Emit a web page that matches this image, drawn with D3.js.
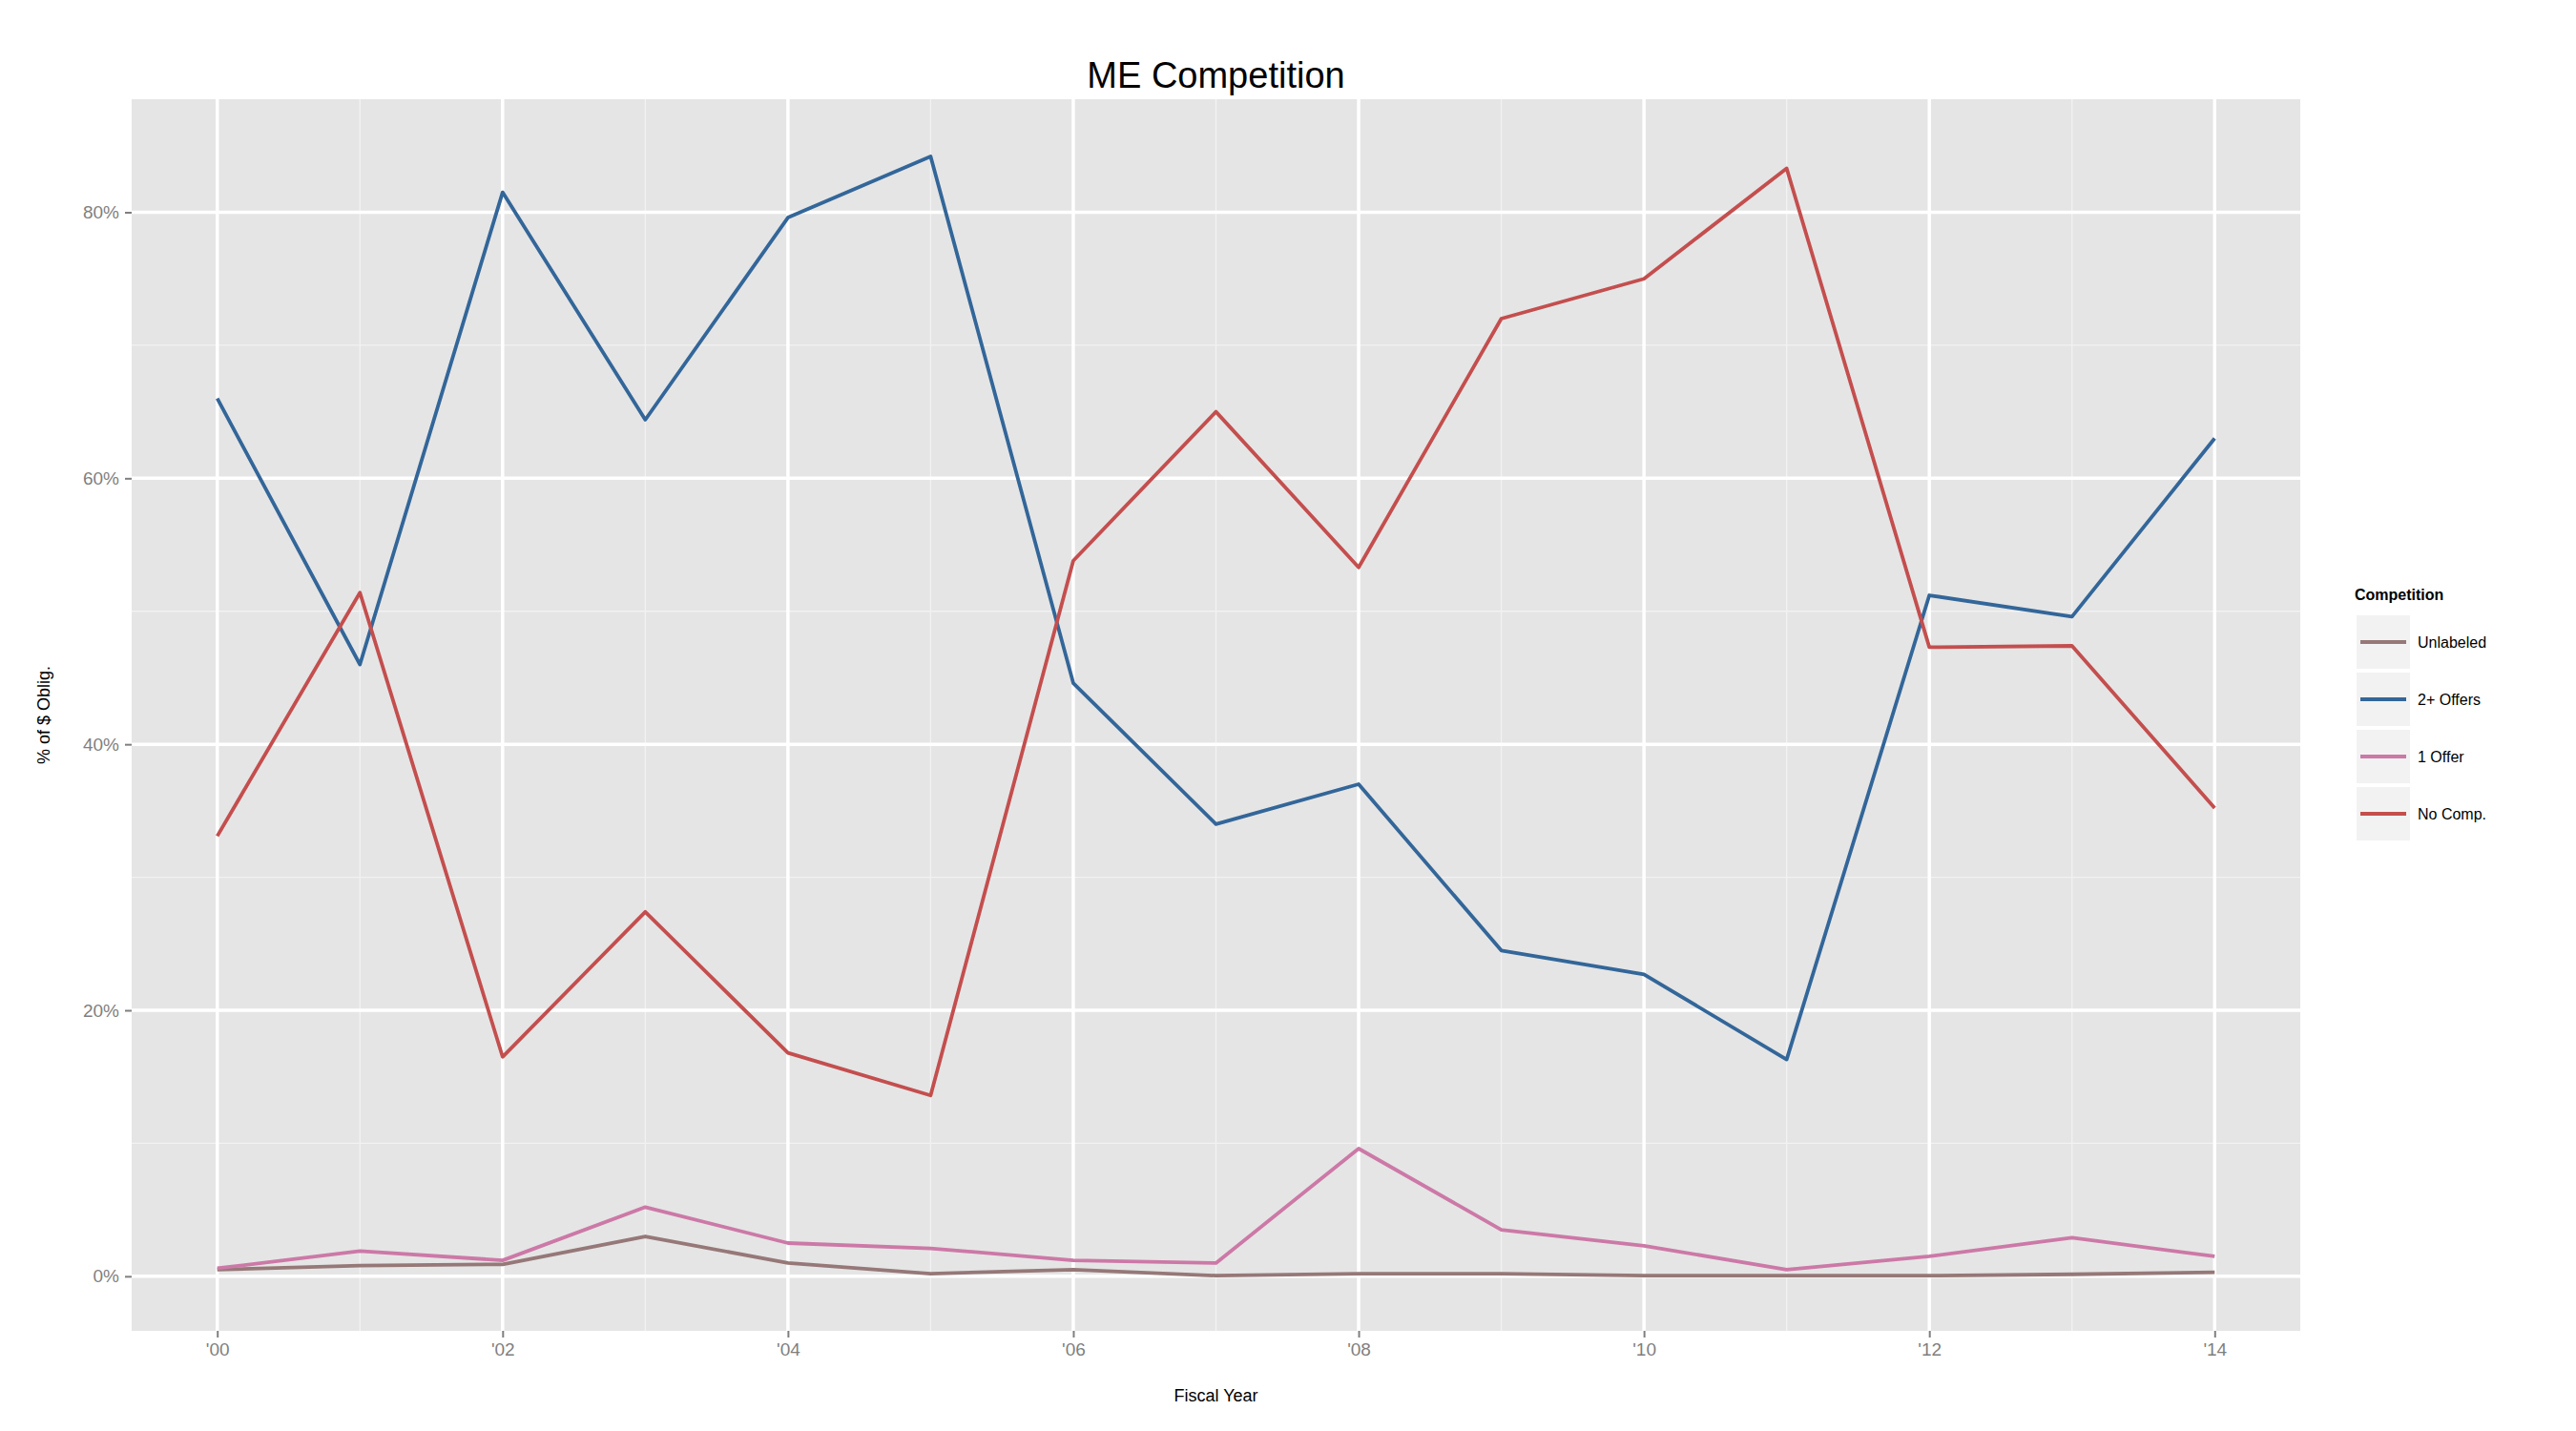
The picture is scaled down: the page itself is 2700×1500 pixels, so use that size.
<!DOCTYPE html>
<html><head><meta charset="utf-8">
<script src="https://cdnjs.cloudflare.com/ajax/libs/d3/7.8.5/d3.min.js"></script>
<style>body{margin:0;background:#fff}</style></head>
<body><svg id="c" width="2700" height="1500"></svg>
<script>
const years = [2000,2001,2002,2003,2004,2005,2006,2007,2008,2009,2010,2011,2012,2013,2014];
const twoPlus = [66,46,81.5,64.4,79.6,84.2,44.6,34.0,37.0,24.5,22.7,16.3,51.2,49.6,63.0];
const noComp = [33.1,51.4,16.5,27.4,16.8,13.6,53.8,65.0,53.3,72.0,75.0,83.3,47.3,47.4,35.2];
const oneOffer = [0.6,1.9,1.2,5.2,2.5,2.1,1.2,1.0,9.6,3.5,2.3,0.5,1.5,2.9,1.5];
const unlabeled = [0.5,0.8,0.9,3.0,1.0,0.2,0.5,0.05,0.2,0.2,0.05,0.05,0.05,0.15,0.3];
const yTicks = [0,20,40,60,80];
const xTicks = [2000,2002,2004,2006,2008,2010,2012,2014];
const series = [
 {name:"Unlabeled", vals:unlabeled, color:"#967878"},
 {name:"2+ Offers", vals:twoPlus, color:"#336699"},
 {name:"1 Offer", vals:oneOffer, color:"#CC79A7"},
 {name:"No Comp.", vals:noComp, color:"#C44E4E"}
];
const svg = d3.select("#c");
const L=138,R=2411,T=104,B=1395;
const x = d3.scaleLinear().domain([1999.4,2014.6]).range([L,R]);
const y = d3.scaleLinear().domain([-4.1,88.5]).range([B,T]);
svg.append("rect").attr("x",L).attr("y",T).attr("width",R-L).attr("height",B-T).attr("fill","#E5E5E5");
const g = svg.append("g");
[10,30,50,70].forEach(v=>g.append("line").attr("x1",L).attr("x2",R).attr("y1",y(v)).attr("y2",y(v)).attr("stroke","#F2F2F2").attr("stroke-width",1.3));
[2001,2003,2005,2007,2009,2011,2013].forEach(v=>g.append("line").attr("y1",T).attr("y2",B).attr("x1",x(v)).attr("x2",x(v)).attr("stroke","#F2F2F2").attr("stroke-width",1.3));
yTicks.forEach(v=>g.append("line").attr("x1",L).attr("x2",R).attr("y1",y(v)).attr("y2",y(v)).attr("stroke","#fff").attr("stroke-width",3.5));
xTicks.forEach(v=>g.append("line").attr("y1",T).attr("y2",B).attr("x1",x(v)).attr("x2",x(v)).attr("stroke","#fff").attr("stroke-width",3.5));
const yAx = svg.append("g").attr("transform",`translate(${L},0)`).call(d3.axisLeft(y).tickValues(yTicks).tickFormat(d=>d+"%").tickSize(7).tickPadding(6));
const xAx = svg.append("g").attr("transform",`translate(0,${B})`).call(d3.axisBottom(x).tickValues(xTicks).tickFormat(d=>"'"+String(d).slice(2)).tickSize(7).tickPadding(6));
[yAx,xAx].forEach(a=>{a.select(".domain").remove();a.selectAll("line").attr("stroke","#7F7F7F").attr("stroke-width",2);a.selectAll("text").attr("fill","#7F7F7F").style("font-family","Liberation Sans, Arial").style("font-size","19px");});
const line = d3.line().x((d,i)=>x(years[i])).y(d=>y(d));
series.forEach(s=>svg.append("path").attr("d",line(s.vals)).attr("fill","none").attr("stroke",s.color).attr("stroke-width",3.8).attr("stroke-linejoin","round"));
svg.append("text").attr("x",(L+R)/2).attr("y",92).attr("text-anchor","middle").style("font-family","Liberation Sans, Arial").style("font-size","38px").text("ME Competition");
svg.append("text").attr("x",(L+R)/2).attr("y",1469).attr("text-anchor","middle").style("font-family","Liberation Sans, Arial").style("font-size","18px").text("Fiscal Year");
svg.append("text").attr("transform",`translate(52,${(T+B)/2}) rotate(-90)`).attr("text-anchor","middle").style("font-family","Liberation Sans, Arial").style("font-size","18px").text("% of $ Oblig.");
const lg = svg.append("g").attr("transform","translate(2468,0)");
lg.append("text").attr("x",0).attr("y",629).style("font-family","Liberation Sans, Arial").style("font-size","16px").style("font-weight","bold").text("Competition");
series.forEach((s,i)=>{
 const y0=645+i*60;
 lg.append("rect").attr("x",2).attr("y",y0).attr("width",56).attr("height",56).attr("fill","#F2F2F2");
 lg.append("line").attr("x1",6).attr("x2",54).attr("y1",y0+28).attr("y2",y0+28).attr("stroke",s.color).attr("stroke-width",4);
 lg.append("text").attr("x",66).attr("y",y0+34).style("font-family","Liberation Sans, Arial").style("font-size","16px").text(s.name);
});
</script></body></html>
